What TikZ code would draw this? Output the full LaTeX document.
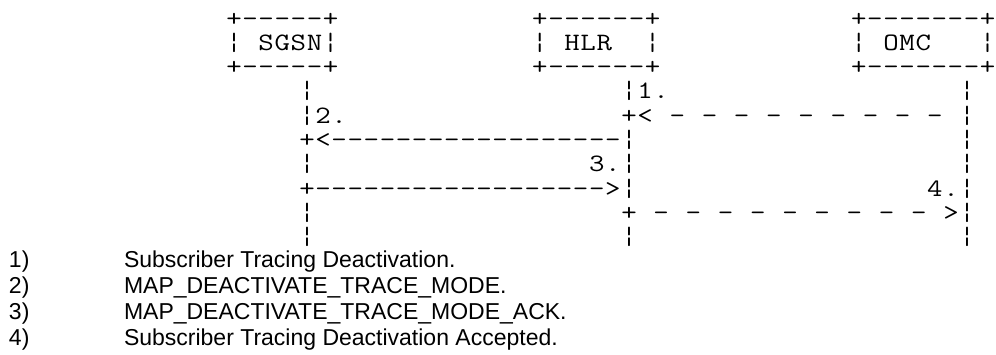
\documentclass[tikz,border=0pt]{standalone}
\usepackage{fontspec}
\newfontfamily\arialf{Liberation Sans}
\newfontfamily\lmmono[FakeStretch=1.2]{Latin Modern Mono}
\newlength\gpitch
\setlength\gpitch{16.1pt}
\def\gsA#1{\ifx#1\relax\else\makebox[\gpitch][c]{#1}\expandafter\gsA\fi}
\newcommand\gs[1]{\gsA#1\relax}
\newcommand\monof{\lmmono\fontsize{25}{26}\selectfont}
\begin{document}
\begin{tikzpicture}[x=1pt,y=-1pt,
  asc/.style={anchor=base west,inner sep=0pt,outer sep=0pt,font=\monof},
  lst/.style={anchor=base west,inner sep=0pt,outer sep=0pt,font=\arialf\fontsize{23}{26}\selectfont}]
\useasboundingbox (0,0) rectangle (996,354);
% boxes (upper grid)
\node[asc] (s0) at (225.95,26) {\gs{+-----+}};
\node[asc] (h0) at (531.85,26) {\gs{+------+}};
\node[asc] (o0) at (850.8,26) {\gs{+-------+}};
\node[asc] (s1) at (225.95,50.3) {\gs{¦~SGSN¦}};
\node[asc] (h1) at (531.85,50.3) {\gs{¦~HLR~~¦}};
\node[asc] (o1) at (850.8,50.3) {\gs{¦~OMC~~~¦}};
\node[asc] (s2) at (225.95,74.6) {\gs{+-----+}};
\node[asc] (h2) at (531.85,74.6) {\gs{+------+}};
\node[asc] (o2) at (850.8,74.6) {\gs{+-------+}};
% lifelines and messages (lower grid)
\node[asc] (a3) at (298.95,98.9) {\gs{¦}};
\node[asc] (b3) at (620.95,98.9) {\gs{¦1.}};
\node[asc] (c3) at (959.05,98.9) {\gs{¦}};
\node[asc] (a4) at (298.95,123.2) {\gs{¦2.}};
\node[asc] (m1) at (620.95,123.2) {\gs{+<~-~-~-~-~-~-~-~-~-~¦}};
\node[asc] (m2) at (298.95,147.5) {\gs{+<------------------¦}};
\node[asc] (c5) at (959.05,147.5) {\gs{¦}};
\node[asc] (a6) at (298.95,171.8) {\gs{¦}};
\node[asc] (b6) at (588.75,171.8) {\gs{3.¦}};
\node[asc] (c6) at (959.05,171.8) {\gs{¦}};
\node[asc] (m3) at (298.95,196.1) {\gs{+------------------>¦}};
\node[asc] (c7) at (926.85,196.1) {\gs{4.¦}};
\node[asc] (a8) at (298.95,220.4) {\gs{¦}};
\node[asc] (m4) at (620.95,220.4) {\gs{+~-~-~-~-~-~-~-~-~-~>¦}};
\node[asc] (a9) at (298.95,244.7) {\gs{¦}};
\node[asc] (b9) at (620.95,244.7) {\gs{¦}};
\node[asc] (c9) at (959.05,244.7) {\gs{¦}};
% legend
\node[lst] (n1) at (9,267) {1)};
\node[lst] (n2) at (9,293) {2)};
\node[lst] (n3) at (9,319) {3)};
\node[lst] (n4) at (9,345) {4)};
\node[lst] (t1) at (124,267) {Subscriber Tracing Deactivation.};
\node[lst] (t2) at (124,293) {MAP\_DEACTIVATE\_TRACE\_MODE.};
\node[lst] (t3) at (124,319) {MAP\_DEACTIVATE\_TRACE\_MODE\_ACK.};
\node[lst] (t4) at (124,345) {Subscriber Tracing Deactivation Accepted.};
\end{tikzpicture}
\end{document}
